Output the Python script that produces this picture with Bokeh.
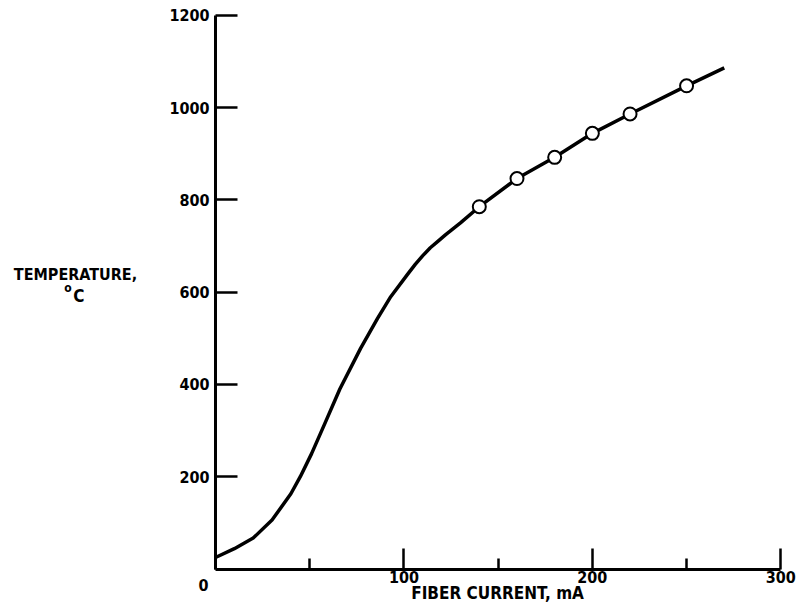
from bokeh.plotting import figure
from bokeh.models import Range1d, FixedTicker, Label, LinearAxis
from bokeh.embed import file_html
from bokeh.resources import INLINE

# Curve (fiber current mA -> temperature °C)
curve_current = [0, 10, 20, 30, 40, 45, 51, 58, 66, 77, 86, 93, 102, 106, 110, 114, 118, 122,
                 126, 130, 140, 160, 180, 200, 220, 250, 270]
curve_temp = [25, 44, 67, 106, 163, 200, 250, 315, 390, 478, 543, 590, 639, 660, 679, 696, 710,
              724, 737, 750, 785, 846, 892, 944, 986, 1047, 1086]

# Measured points (open circles)
point_current = [140, 160, 180, 200, 220, 250]
point_temp = [785, 846, 892, 944, 986, 1047]

x_major = [0, 100, 200, 300]
x_minor = [50, 150, 250]
x_labels = {0: "", 100: "100", 200: "200", 300: "300"}
y_major = [200, 400, 600, 800, 1000, 1200]

FONT = "DejaVu Sans Condensed"

W, H = 797, 613
# plot area: x 0..300 -> px 215..780.3 ; y 0..1200 -> px 568.5..14.7
sx = (780.3 - 215) / 300.0
sy = (568.5 - 14.7) / 1200.0
x0 = -215 / sx
x1 = (W - 215) / sx
y1 = 1200 + 14.7 / sy
y0 = -(H - 568.5) / sy

p = figure(width=W, height=H, output_backend="svg", toolbar_location=None,
           x_range=Range1d(x0, x1), y_range=Range1d(y0, y1),
           x_axis_location=None, y_axis_location=None,
           min_border_left=0, min_border_right=0, min_border_top=0, min_border_bottom=0)
p.outline_line_color = None
p.background_fill_color = "white"
p.border_fill_color = "white"
p.grid.visible = False

xax = LinearAxis(fixed_location=0, bounds=(0, 300))
yax = LinearAxis(fixed_location=0, bounds=(0, 1200))
p.add_layout(xax, "below")
p.add_layout(yax, "left")

for ax in (xax, yax):
    ax.axis_line_width = 3
    ax.axis_line_color = "black"
    ax.major_tick_line_width = 2.5
    ax.minor_tick_line_width = 2.5
    ax.major_tick_out = 0
    ax.minor_tick_out = 0
    ax.major_label_text_font = FONT
    ax.major_label_text_font_style = "bold"
    ax.major_label_text_font_size = "16px"
    ax.major_label_text_color = "black"

xax.ticker = FixedTicker(ticks=x_major, minor_ticks=x_minor)
xax.major_label_overrides = x_labels
xax.major_tick_in = 21
xax.minor_tick_in = 11
xax.major_label_standoff = 2

yax.ticker = FixedTicker(ticks=y_major, minor_ticks=[])
yax.major_tick_in = 22
yax.minor_tick_in = 0
yax.minor_tick_line_color = None
yax.major_label_standoff = 6

p.line(curve_current, curve_temp, line_width=3.5, line_color="black", line_join="round")
p.scatter(point_current, point_temp, marker="circle", size=13,
          fill_color="white", line_color="black", line_width=2)

def lab(x, y, text, size="17px"):
    p.add_layout(Label(x=x, y=y, text=text, text_font=FONT, text_font_style="bold",
                       text_font_size=size, text_align="center", text_baseline="middle",
                       text_color="black"))

lab(149.7, -53, "FIBER CURRENT, mA")
lab(-6.4, -33.6, "0", "16px")
lab(-74.3, 639, "TEMPERATURE,", "16px")
lab(-78.3, 608, "o", "12px")
lab(-72.5, 591.5, "C", "17px")

open("out.html", "w").write(file_html(p, INLINE))
